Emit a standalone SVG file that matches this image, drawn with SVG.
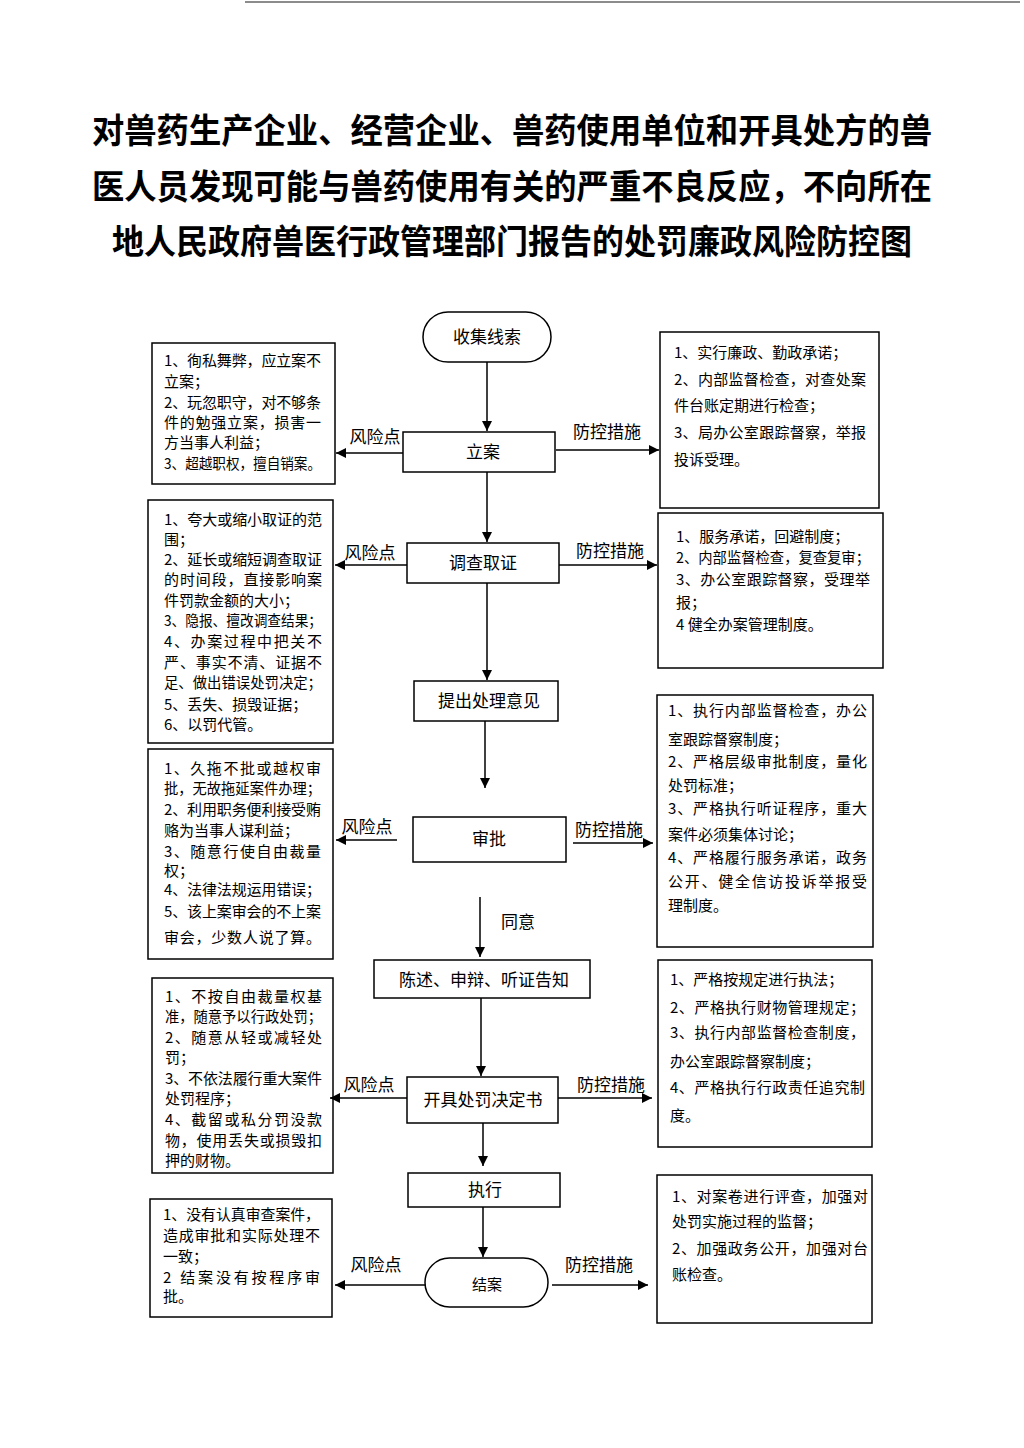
<svg xmlns="http://www.w3.org/2000/svg" width="1024" height="1448" viewBox="0 0 1024 1448">
<defs>
<marker id="ah" viewBox="0 0 10 10" refX="10" refY="5" markerWidth="10" markerHeight="10" markerUnits="userSpaceOnUse" orient="auto">
<path d="M0,0 L10,5 L0,10 z" fill="#000"/>
</marker>
<style>
.t{font-family:"Noto Sans CJK SC","Liberation Sans",sans-serif;font-size:34px;font-weight:bold;fill:#000;text-anchor:middle}
.n{font-family:"Noto Sans CJK SC","Liberation Sans",sans-serif;font-size:17px;fill:#000;text-anchor:middle}
.l{font-family:"Noto Sans CJK SC","Liberation Sans",sans-serif;font-size:17px;fill:#000;text-anchor:middle}
.b{font-family:"Noto Sans CJK SC","Liberation Sans",sans-serif;font-size:15px;fill:#000}
.box{fill:#fff;stroke:#000;stroke-width:1.5}
.c line{stroke:#000;stroke-width:1.5;marker-end:url(#ah)}
</style>
</defs>
<rect width="1024" height="1448" fill="#fff"/>
<line x1="245" y1="2" x2="1020" y2="2" stroke="#666" stroke-width="1.5"/>

<g id="title">
<text class="t" x="512" y="143" textLength="840" lengthAdjust="spacingAndGlyphs">对兽药生产企业、经营企业、兽药使用单位和开具处方的兽</text>
<text class="t" x="512" y="199" textLength="840" lengthAdjust="spacingAndGlyphs">医人员发现可能与兽药使用有关的严重不良反应，不向所在</text>
<text class="t" x="512" y="254" textLength="800" lengthAdjust="spacingAndGlyphs">地人民政府兽医行政管理部门报告的处罚廉政风险防控图</text>
</g>

<g id="n-start"><rect class="box" x="423" y="312" width="128" height="50" rx="25"/><text class="n" x="487" y="343">收集线索</text></g>
<g id="n-lian"><rect class="box" x="403" y="432" width="152" height="40"/><text class="n" x="483" y="458">立案</text></g>
<g id="n-diaocha"><rect class="box" x="407" y="543" width="152" height="40"/><text class="n" x="483" y="569">调查取证</text></g>
<g id="n-tichu"><rect class="box" x="414" y="681" width="144" height="40"/><text class="n" x="489" y="707">提出处理意见</text></g>
<g id="n-shenpi"><rect class="box" x="413" y="817" width="153" height="45"/><text class="n" x="489" y="845">审批</text></g>
<g id="n-chenshu"><rect class="box" x="374" y="960" width="216" height="38"/><text class="n" x="484" y="986">陈述、申辩、听证告知</text></g>
<g id="n-kaiju"><rect class="box" x="407" y="1077" width="151" height="46"/><text class="n" x="483" y="1106">开具处罚决定书</text></g>
<g id="n-zhixing"><rect class="box" x="408" y="1173" width="152" height="34"/><text class="n" x="485" y="1196">执行</text></g>
<g id="n-jiean"><rect class="box" x="425" y="1258" width="123" height="49" rx="24.5"/><text class="b" x="487" y="1290" text-anchor="middle">结案</text></g>

<g id="risk1"><rect class="box" x="152" y="343" width="183" height="141"/>
<text class="b" x="164" y="366" textLength="157" lengthAdjust="spacing">1、徇私舞弊，应立案不</text>
<text class="b" x="164" y="387">立案；</text>
<text class="b" x="164" y="408" textLength="157" lengthAdjust="spacing">2、玩忽职守，对不够条</text>
<text class="b" x="164" y="428" textLength="157" lengthAdjust="spacing">件的勉强立案，损害一</text>
<text class="b" x="164" y="448">方当事人利益；</text>
<text class="b" x="164" y="469" textLength="157" lengthAdjust="spacingAndGlyphs">3、超越职权，擅自销案。</text>
</g>
<g id="ctrl1"><rect class="box" x="660" y="332" width="219" height="176"/>
<text class="b" x="674" y="358">1、实行廉政、勤政承诺；</text>
<text class="b" x="674" y="385" textLength="192" lengthAdjust="spacing">2、内部监督检查，对查处案</text>
<text class="b" x="674" y="411">件台账定期进行检查；</text>
<text class="b" x="674" y="438" textLength="192" lengthAdjust="spacing">3、局办公室跟踪督察，举报</text>
<text class="b" x="674" y="465">投诉受理。</text>
</g>

<g id="risk2"><rect class="box" x="148" y="500" width="185" height="243"/>
<text class="b" x="164" y="525" textLength="158" lengthAdjust="spacing">1、夸大或缩小取证的范</text>
<text class="b" x="164" y="545">围；</text>
<text class="b" x="164" y="565" textLength="158" lengthAdjust="spacing">2、延长或缩短调查取证</text>
<text class="b" x="164" y="585" textLength="158" lengthAdjust="spacing">的时间段，直接影响案</text>
<text class="b" x="164" y="606">件罚款金额的大小；</text>
<text class="b" x="164" y="626" textLength="158" lengthAdjust="spacingAndGlyphs">3、隐报、擅改调查结果；</text>
<text class="b" x="164" y="647" textLength="158" lengthAdjust="spacing">4、办案过程中把关不</text>
<text class="b" x="164" y="668" textLength="158" lengthAdjust="spacing">严、事实不清、证据不</text>
<text class="b" x="164" y="688" textLength="158" lengthAdjust="spacingAndGlyphs">足、做出错误处罚决定；</text>
<text class="b" x="164" y="710">5、丢失、损毁证据；</text>
<text class="b" x="164" y="730">6、以罚代管。</text>
</g>
<g id="ctrl2"><rect class="box" x="658" y="513" width="225" height="155"/>
<text class="b" x="676" y="542">1、服务承诺，回避制度；</text>
<text class="b" x="676" y="563" textLength="194" lengthAdjust="spacingAndGlyphs">2、内部监督检查，复查复审；</text>
<text class="b" x="676" y="585" textLength="194" lengthAdjust="spacing">3、办公室跟踪督察，受理举</text>
<text class="b" x="676" y="608">报；</text>
<text class="b" x="676" y="630">4 健全办案管理制度。</text>
</g>

<g id="risk3"><rect class="box" x="148" y="749" width="185" height="210"/>
<text class="b" x="164" y="774" textLength="157" lengthAdjust="spacing">1、久拖不批或越权审</text>
<text class="b" x="164" y="794" textLength="157" lengthAdjust="spacingAndGlyphs">批，无故拖延案件办理；</text>
<text class="b" x="164" y="815" textLength="157" lengthAdjust="spacing">2、利用职务便利接受贿</text>
<text class="b" x="164" y="836">赂为当事人谋利益；</text>
<text class="b" x="164" y="857" textLength="157" lengthAdjust="spacing">3、随意行使自由裁量</text>
<text class="b" x="164" y="876">权；</text>
<text class="b" x="164" y="895" textLength="157" lengthAdjust="spacingAndGlyphs">4、法律法规运用错误；</text>
<text class="b" x="164" y="917" textLength="157" lengthAdjust="spacing">5、该上案审会的不上案</text>
<text class="b" x="164" y="943" textLength="157" lengthAdjust="spacing">审会，少数人说了算。</text>
</g>
<g id="ctrl3"><rect class="box" x="657" y="695" width="216" height="252"/>
<text class="b" x="668" y="716" textLength="199" lengthAdjust="spacing">1、执行内部监督检查，办公</text>
<text class="b" x="668" y="745">室跟踪督察制度；</text>
<text class="b" x="668" y="767" textLength="199" lengthAdjust="spacing">2、严格层级审批制度，量化</text>
<text class="b" x="668" y="791">处罚标准；</text>
<text class="b" x="668" y="814" textLength="199" lengthAdjust="spacing">3、严格执行听证程序，重大</text>
<text class="b" x="668" y="840">案件必须集体讨论；</text>
<text class="b" x="668" y="863" textLength="199" lengthAdjust="spacing">4、严格履行服务承诺，政务</text>
<text class="b" x="668" y="887" textLength="199" lengthAdjust="spacing">公开、健全信访投诉举报受</text>
<text class="b" x="668" y="911">理制度。</text>
</g>

<g id="risk4"><rect class="box" x="152" y="978" width="181" height="195"/>
<text class="b" x="165" y="1002" textLength="157" lengthAdjust="spacing">1、不按自由裁量权基</text>
<text class="b" x="165" y="1022" textLength="157" lengthAdjust="spacingAndGlyphs">准，随意予以行政处罚；</text>
<text class="b" x="165" y="1043" textLength="157" lengthAdjust="spacing">2、随意从轻或减轻处</text>
<text class="b" x="165" y="1063">罚；</text>
<text class="b" x="165" y="1084" textLength="157" lengthAdjust="spacing">3、不依法履行重大案件</text>
<text class="b" x="165" y="1104">处罚程序；</text>
<text class="b" x="165" y="1125" textLength="157" lengthAdjust="spacing">4、截留或私分罚没款</text>
<text class="b" x="165" y="1146" textLength="157" lengthAdjust="spacing">物，使用丢失或损毁扣</text>
<text class="b" x="165" y="1166">押的财物。</text>
</g>
<g id="ctrl4"><rect class="box" x="658" y="960" width="214" height="187"/>
<text class="b" x="670" y="985">1、严格按规定进行执法；</text>
<text class="b" x="670" y="1013" textLength="195" lengthAdjust="spacing">2、严格执行财物管理规定；</text>
<text class="b" x="670" y="1038" textLength="195" lengthAdjust="spacing">3、执行内部监督检查制度，</text>
<text class="b" x="670" y="1067">办公室跟踪督察制度；</text>
<text class="b" x="670" y="1093" textLength="195" lengthAdjust="spacing">4、严格执行行政责任追究制</text>
<text class="b" x="670" y="1121">度。</text>
</g>

<g id="risk5"><rect class="box" x="150" y="1199" width="182" height="118"/>
<text class="b" x="163" y="1220" textLength="157" lengthAdjust="spacingAndGlyphs">1、没有认真审查案件，</text>
<text class="b" x="163" y="1241" textLength="157" lengthAdjust="spacing">造成审批和实际处理不</text>
<text class="b" x="163" y="1262">一致；</text>
<text class="b" x="163" y="1283" textLength="157" lengthAdjust="spacing">2 结案没有按程序审</text>
<text class="b" x="163" y="1302">批。</text>
</g>
<g id="ctrl5"><rect class="box" x="657" y="1175" width="215" height="148"/>
<text class="b" x="672" y="1202" textLength="196" lengthAdjust="spacing">1、对案卷进行评查，加强对</text>
<text class="b" x="672" y="1227">处罚实施过程的监督；</text>
<text class="b" x="672" y="1254" textLength="196" lengthAdjust="spacing">2、加强政务公开，加强对台</text>
<text class="b" x="672" y="1280">账检查。</text>
</g>

<g id="connectors" class="c">
<line x1="487" y1="362" x2="487" y2="431"/>
<line x1="403" y1="453" x2="336" y2="453"/>
<line x1="556" y1="450" x2="659" y2="450"/>
<line x1="487" y1="472" x2="487" y2="542"/>
<line x1="407" y1="565" x2="335" y2="565"/>
<line x1="559" y1="565" x2="657" y2="565"/>
<line x1="487" y1="583" x2="487" y2="680"/>
<line x1="485" y1="721" x2="485" y2="788"/>
<line x1="397" y1="840" x2="336" y2="840"/>
<line x1="573" y1="843" x2="653" y2="843"/>
<line x1="480" y1="897" x2="480" y2="957"/>
<line x1="481" y1="998" x2="481" y2="1076"/>
<line x1="407" y1="1098" x2="330" y2="1098"/>
<line x1="558" y1="1098" x2="652" y2="1098"/>
<line x1="483" y1="1123" x2="483" y2="1166"/>
<line x1="483" y1="1207" x2="483" y2="1257"/>
<line x1="425" y1="1285" x2="335" y2="1285"/>
<line x1="552" y1="1285" x2="648" y2="1285"/>
</g>
<g id="connector-labels">
<text class="l" x="375" y="443">风险点</text>
<text class="l" x="607" y="438">防控措施</text>
<text class="l" x="370" y="559">风险点</text>
<text class="l" x="610" y="557">防控措施</text>
<text class="l" x="367" y="833">风险点</text>
<text class="l" x="609" y="836">防控措施</text>
<text class="l" x="518" y="928">同意</text>
<text class="l" x="369" y="1091">风险点</text>
<text class="l" x="611" y="1091">防控措施</text>
<text class="l" x="376" y="1271">风险点</text>
<text class="l" x="599" y="1271">防控措施</text>
</g>
</svg>
